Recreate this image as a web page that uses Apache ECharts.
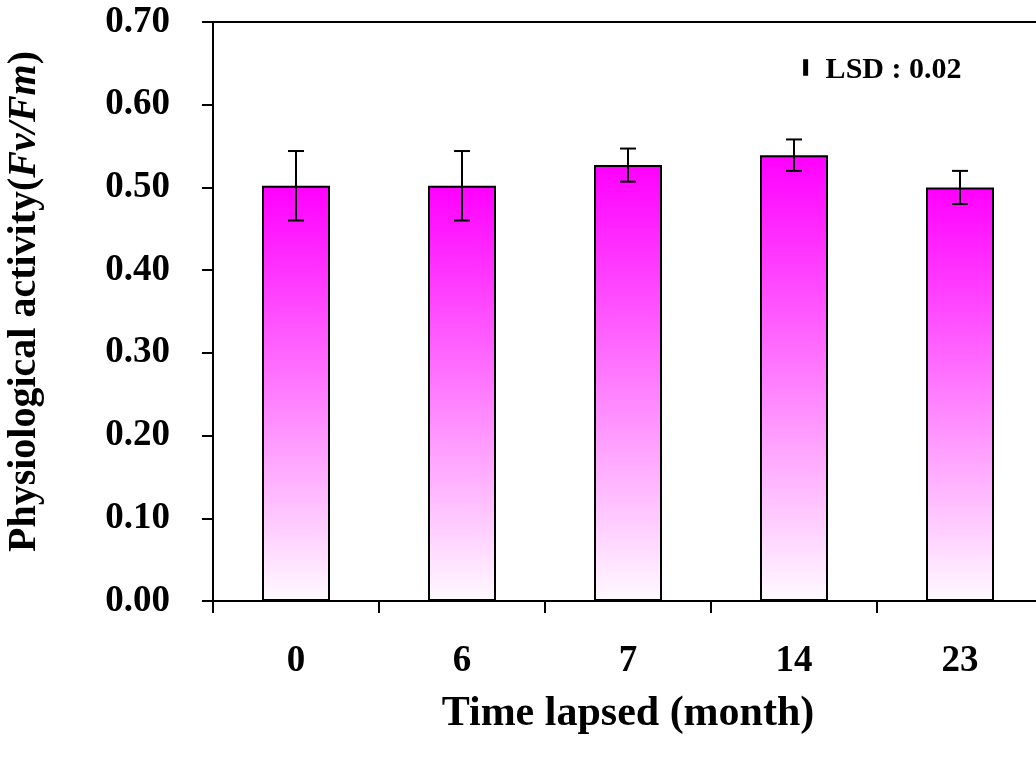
<!DOCTYPE html>
<html>
<head>
<meta charset="utf-8">
<title>Physiological activity over time</title>
<script src="https://cdn.jsdelivr.net/npm/echarts@6/dist/echarts.min.js"></script>
<style>
  html, body { margin: 0; padding: 0; background: #fff; }
  #chart { width: 1036px; height: 757px; }
</style>
</head>
<body>
<div id="chart"></div>
<script>
// Months elapsed since the start of the trial
const categories = ['0', '6', '7', '14', '23'];
// Mean Fv/Fm per sampling time
const fvfmMean = [0.502, 0.502, 0.527, 0.539, 0.500];
// Standard error of each mean
const fvfmError = [0.042, 0.042, 0.020, 0.019, 0.020];
// Least significant difference and where its key bar sits (x in category units, y centre)
const lsdValue = 0.02;
const lsdAnchor = [3.57, 0.645];
const lsdLabel = 'LSD : 0.02';
// Value axis ticks
const yMin = 0, yMax = 0.7, yStep = 0.1;

const FONT = "'Liberation Serif', 'Times New Roman', serif";

const chart = echarts.init(document.getElementById('chart'), null, { renderer: 'canvas' });

const errData = categories.map((c, i) => [i, fvfmMean[i] - fvfmError[i], fvfmMean[i] + fvfmError[i]]);

const option = {
  backgroundColor: '#ffffff',
  animation: false,
  grid: {
    left: 213, top: 22, width: 830, height: 579,
    containLabel: false,
    outerBoundsMode: 'none',
    show: true, borderColor: '#000', borderWidth: 2, backgroundColor: 'transparent'
  },
  xAxis: [{
    type: 'category',
    data: categories,
    boundaryGap: true,
    axisLine: { lineStyle: { color: '#000', width: 2 } },
    axisTick: { show: true, length: 12, lineStyle: { color: '#000', width: 2 } },
    axisLabel: { color: '#000', fontFamily: FONT, fontWeight: 'bold', fontSize: 37, margin: 42 },
    name: 'Time lapsed (month)',
    nameLocation: 'middle',
    nameGap: 92,
    nameTextStyle: { color: '#000', fontFamily: FONT, fontWeight: 'bold', fontSize: 42 }
  }, {
    type: 'value', min: 0, max: categories.length, show: false, gridIndex: 0
  }],
  yAxis: {
    type: 'value',
    min: yMin, max: yMax, interval: yStep,
    splitLine: { show: false },
    axisLine: { show: true, lineStyle: { color: '#000', width: 2 } },
    axisTick: { show: true, length: 11, lineStyle: { color: '#000', width: 2 } },
    axisLabel: {
      color: '#000', fontFamily: FONT, fontWeight: 'bold', fontSize: 37, margin: 43,
      formatter: v => v.toFixed(2)
    },
    name: 'Physiological activity({i|Fv/Fm})',
    nameLocation: 'middle',
    nameGap: 168,
    nameRotate: 90,
    nameTextStyle: {
      color: '#000', fontFamily: FONT, fontWeight: 'bold', fontSize: 40,
      padding: [0, 0, 0, 20],
      rich: { i: { fontFamily: FONT, fontWeight: 'bold', fontStyle: 'italic', fontSize: 40, color: '#000' } }
    }
  },
  series: [{
    type: 'bar',
    data: fvfmMean,
    barWidth: 68,
    itemStyle: {
      color: new echarts.graphic.LinearGradient(0, 0, 0, 1, [
        { offset: 0, color: '#ff00ff' },
        { offset: 1, color: '#fffaff' }
      ]),
      borderColor: '#000',
      borderWidth: 2
    }
  }, {
    type: 'custom',
    data: errData,
    z: 5,
    renderItem: (params, api) => {
      const lo = api.coord([api.value(0), api.value(1)]);
      const hi = api.coord([api.value(0), api.value(2)]);
      const cap = 8;
      const style = { stroke: '#000', lineWidth: 2 };
      return {
        type: 'group',
        children: [
          { type: 'line', shape: { x1: hi[0], y1: hi[1], x2: lo[0], y2: lo[1] }, style },
          { type: 'line', shape: { x1: hi[0] - cap, y1: hi[1], x2: hi[0] + cap, y2: hi[1] }, style },
          { type: 'line', shape: { x1: lo[0] - cap, y1: lo[1], x2: lo[0] + cap, y2: lo[1] }, style }
        ]
      };
    }
  }, {
    type: 'custom',
    xAxisIndex: 1,
    data: [[lsdAnchor[0], lsdAnchor[1] - lsdValue / 2, lsdAnchor[1] + lsdValue / 2]],
    z: 5,
    renderItem: (params, api) => {
      const lo = api.coord([api.value(0), api.value(1)]);
      const hi = api.coord([api.value(0), api.value(2)]);
      return {
        type: 'group',
        children: [
          { type: 'rect', shape: { x: lo[0] - 2.5, y: hi[1], width: 5, height: lo[1] - hi[1] }, style: { fill: '#000' } },
          {
            type: 'text',
            style: {
              x: lo[0] + 20, y: (lo[1] + hi[1]) / 2 + 3,
              text: lsdLabel, fill: '#000',
              font: "bold 30px " + FONT,
              verticalAlign: 'middle', align: 'left'
            }
          }
        ]
      };
    }
  }]
};

chart.setOption(option);
</script>
</body>
</html>
